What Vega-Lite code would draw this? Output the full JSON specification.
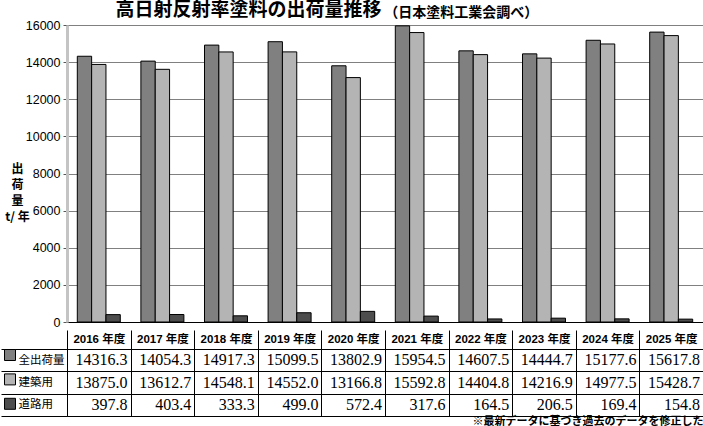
{
  "$schema": "https://vega.github.io/schema/vega-lite/v6.json",
  "padding": {"left": 0, "right": 0, "top": 1, "bottom": 0},
  "config": {
    "font": "Liberation Sans",
    "view": {"stroke": null},
    "axis": {"labelColor": "black"}
  },
  "title": {
    "text": "高日射反射率塗料の出荷量推移",
    "subtitle": "\u200b\u3000\u3000\u3000\u3000\u3000\u3000\u3000\u3000\u3000\u3000\u3000\u3000\u3000\u3000\u3000\u3000\u3000\u3000\u3000\u2009（日本塗料工業会調べ）",
    "anchor": "start",
    "dx": 115,
    "font": "Noto Sans CJK JP",
    "fontSize": 19,
    "fontWeight": "bold",
    "color": "black",
    "subtitleFont": "Noto Sans CJK JP",
    "subtitleFontSize": 14,
    "subtitleFontWeight": "bold",
    "subtitleColor": "black",
    "subtitlePadding": -14,
    "offset": -1
  },
  "data": {
    "values": [
      {"year": "2016 年度", "series": "全出荷量", "value": 14316.3},
      {"year": "2016 年度", "series": "建築用", "value": 13875.0},
      {"year": "2016 年度", "series": "道路用", "value": 397.8},
      {"year": "2017 年度", "series": "全出荷量", "value": 14054.3},
      {"year": "2017 年度", "series": "建築用", "value": 13612.7},
      {"year": "2017 年度", "series": "道路用", "value": 403.4},
      {"year": "2018 年度", "series": "全出荷量", "value": 14917.3},
      {"year": "2018 年度", "series": "建築用", "value": 14548.1},
      {"year": "2018 年度", "series": "道路用", "value": 333.3},
      {"year": "2019 年度", "series": "全出荷量", "value": 15099.5},
      {"year": "2019 年度", "series": "建築用", "value": 14552.0},
      {"year": "2019 年度", "series": "道路用", "value": 499.0},
      {"year": "2020 年度", "series": "全出荷量", "value": 13802.9},
      {"year": "2020 年度", "series": "建築用", "value": 13166.8},
      {"year": "2020 年度", "series": "道路用", "value": 572.4},
      {"year": "2021 年度", "series": "全出荷量", "value": 15954.5},
      {"year": "2021 年度", "series": "建築用", "value": 15592.8},
      {"year": "2021 年度", "series": "道路用", "value": 317.6},
      {"year": "2022 年度", "series": "全出荷量", "value": 14607.5},
      {"year": "2022 年度", "series": "建築用", "value": 14404.8},
      {"year": "2022 年度", "series": "道路用", "value": 164.5},
      {"year": "2023 年度", "series": "全出荷量", "value": 14444.7},
      {"year": "2023 年度", "series": "建築用", "value": 14216.9},
      {"year": "2023 年度", "series": "道路用", "value": 206.5},
      {"year": "2024 年度", "series": "全出荷量", "value": 15177.6},
      {"year": "2024 年度", "series": "建築用", "value": 14977.5},
      {"year": "2024 年度", "series": "道路用", "value": 169.4},
      {"year": "2025 年度", "series": "全出荷量", "value": 15617.8},
      {"year": "2025 年度", "series": "建築用", "value": 15428.7},
      {"year": "2025 年度", "series": "道路用", "value": 154.8}
    ]
  },
  "spacing": 0,
  "resolve": {"scale": {"color": "independent"}, "legend": {"color": "independent"}},
  "vconcat": [
    {
      "width": 636,
      "height": 297,
      "mark": {"type": "bar", "stroke": "black", "strokeWidth": 1},
      "encoding": {
        "x": {
          "field": "year",
          "type": "nominal",
          "sort": null,
          "scale": {"paddingInner": 0.324, "paddingOuter": 0.162},
          "axis": {"title": null, "labels": false, "ticks": false, "grid": false, "domainColor": "black", "domainWidth": 1}
        },
        "xOffset": {"field": "series", "type": "nominal", "sort": ["全出荷量", "建築用", "道路用"]},
        "y": {
          "field": "value",
          "type": "quantitative",
          "scale": {"domain": [0, 16000]},
          "axis": {
            "values": [0, 2000, 4000, 6000, 8000, 10000, 12000, 14000, 16000],
            "format": "d",
            "labelFontSize": 12.5,
            "labelPadding": 3,
            "tickSize": 4,
            "tickColor": "#555555",
            "domainColor": "#c4c4c4",
            "domainWidth": 3,
            "gridColor": "#808080",
            "gridWidth": 1,
            "title": ["出", "荷", "量", "t/ 年"],
            "titleFont": "Noto Sans CJK JP",
            "titleFontSize": 12,
            "titleFontWeight": "bold",
            "titleColor": "black",
            "titleAngle": 0,
            "titleAlign": "center",
            "titleBaseline": "top",
            "titleLineHeight": 16,
            "titleX": -50,
            "titleY": 138
          }
        },
        "color": {
          "field": "series",
          "type": "nominal",
          "scale": {"domain": ["全出荷量", "建築用", "道路用"], "range": ["#808080", "#b4b4b4", "#4d4d4d"]},
          "legend": null
        }
      }
    },
    {
      "width": 636,
      "height": 67,
      "title": {
        "text": "※最新データに基づき過去のデータを修正した",
        "orient": "bottom",
        "anchor": "end",
        "font": "Noto Sans CJK JP",
        "fontSize": 11,
        "fontWeight": "bold",
        "color": "black",
        "offset": -1
      },
      "encoding": {
        "x": {
          "field": "year",
          "type": "nominal",
          "sort": null,
          "scale": {"paddingInner": 0, "paddingOuter": 0},
          "axis": {
            "orient": "top",
            "title": null,
            "labelAngle": 0,
            "labelFont": "Liberation Sans, Noto Sans CJK JP",
            "labelFontSize": 11.5,
            "labelFontWeight": "bold",
            "labelBaseline": "middle",
            "labelPadding": -9.5,
            "tickBand": "extent",
            "tickSize": 19,
            "tickColor": "black",
            "domainColor": "black",
            "grid": true,
            "gridColor": "black",
            "gridOpacity": 1
          }
        },
        "y": {
          "field": "series",
          "type": "nominal",
          "sort": ["全出荷量", "建築用", "道路用"],
          "scale": {"paddingInner": 0, "paddingOuter": 0},
          "axis": {
            "title": null,
            "labelFont": "Noto Sans CJK JP",
            "labelFontSize": 11.5,
            "labelAlign": "left",
            "labelBaseline": "middle",
            "labelPadding": -17,
            "tickBand": "extent",
            "tickSize": 66,
            "tickColor": "black",
            "domainColor": "black",
            "grid": true,
            "gridColor": "black",
            "gridOpacity": 1
          }
        }
      },
      "layer": [
        {
          "mark": {"type": "square", "opacity": 0, "stroke": "black"},
          "encoding": {
            "color": {
              "field": "series",
              "type": "nominal",
              "scale": {"domain": ["全出荷量", "建築用", "道路用"], "range": ["#808080", "#b4b4b4", "#4d4d4d"]},
              "legend": {
                "orient": "none",
                "legendX": -63,
                "legendY": 0,
                "title": null,
                "padding": 0,
                "symbolType": "square",
                "symbolSize": 121,
                "symbolStrokeColor": "black",
                "symbolStrokeWidth": 1,
                "symbolOpacity": 1,
                "labelExpr": "''",
                "labelFontSize": 1,
                "rowPadding": 8.4
              }
            }
          }
        },
        {
          "mark": {"type": "text", "align": "right", "baseline": "middle", "dx": -3, "font": "Liberation Sans Narrow", "fontSize": 16, "color": "black"},
          "encoding": {
            "x": {"field": "year", "type": "nominal", "sort": null, "bandPosition": 1},
            "text": {"field": "value", "type": "quantitative", "format": ".1f"}
          }
        }
      ]
    }
  ]
}
